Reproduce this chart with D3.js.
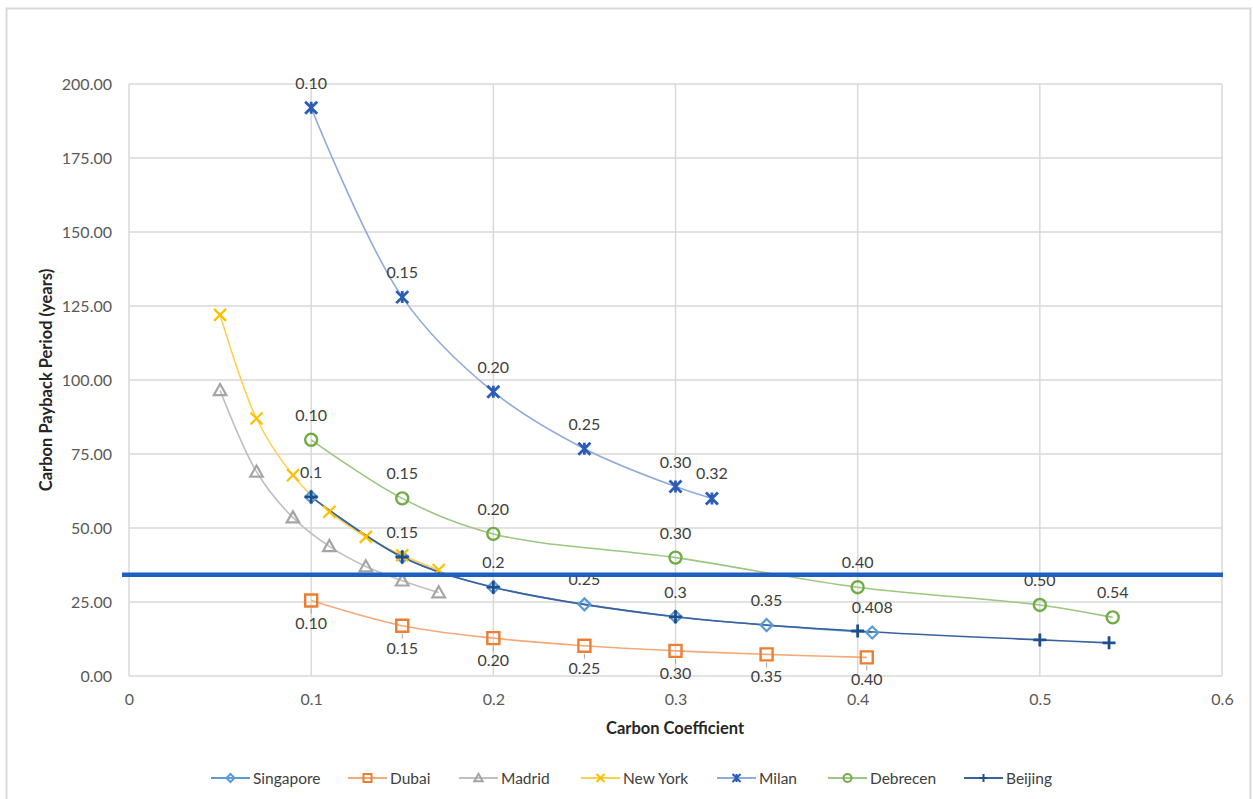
<!DOCTYPE html>
<html><head><meta charset="utf-8">
<script src="https://cdn.jsdelivr.net/npm/d3@7"></script>
<style>body{margin:0;background:#fff;font-family:Lato,sans-serif;}</style>
</head><body>
<svg id="c" width="1253" height="799"></svg>
<script>
// ---- data ----
const seriesNames = ["Singapore","Dubai","Madrid","New York","Milan","Debrecen","Beijing"];
const singaporeX = [0.10,0.15,0.20,0.25,0.30,0.35,0.408];
const singaporeY = [60.5,40.2,30.0,24.2,20.0,17.2,14.7];
const singaporeLabels = ["0.1","0.15","0.2","0.25","0.3","0.35","0.408"];
const dubaiX = [0.10,0.15,0.20,0.25,0.30,0.35,0.405];
const dubaiY = [25.5,17.0,12.8,10.2,8.5,7.3,6.3];
const dubaiLabels = ["0.10","0.15","0.20","0.25","0.30","0.35","0.40"];
const madridX = [0.05,0.07,0.09,0.11,0.13,0.15,0.17];
const madridY = [96.5,69.0,53.5,43.8,37.0,32.2,28.2];
const newYorkX = [0.05,0.07,0.09,0.11,0.13,0.15,0.17];
const newYorkY = [122.0,87.0,67.8,55.5,47.0,40.8,35.8];
const milanX = [0.10,0.15,0.20,0.25,0.30,0.32];
const milanY = [192.0,128.0,96.0,76.8,64.0,60.0];
const milanLabels = ["0.10","0.15","0.20","0.25","0.30","0.32"];
const debrecenX = [0.10,0.15,0.20,0.30,0.40,0.50,0.54];
const debrecenY = [79.8,60.0,48.0,40.0,30.0,24.0,19.8];
const debrecenLabels = ["0.10","0.15","0.20","0.30","0.40","0.50","0.54"];
const beijingX = [0.10,0.15,0.20,0.30,0.40,0.50,0.538];
const beijingY = [60.5,40.2,30.0,20.0,15.2,12.2,11.2];
const thresholdY = [34.2];
const xTicks = [0,0.1,0.2,0.3,0.4,0.5,0.6];
const xTickLabels = ["0","0.1","0.2","0.3","0.4","0.5","0.6"];
const yTicks = [0,25,50,75,100,125,150,175,200];
const yTickLabels = ["0.00","25.00","50.00","75.00","100.00","125.00","150.00","175.00","200.00"];

// ---- styling ----
const FONT = "Lato, 'Noto Sans', sans-serif";
const styles = {
  "Singapore":{color:"#5B9BD5", line:"#5B9BD5", shape:"diamond"},
  "Dubai":{color:"#ED7D31", line:"#F4A97A", shape:"square"},
  "Madrid":{color:"#A5A5A5", line:"#C0C0C0", shape:"triangle"},
  "New York":{color:"#FFC000", line:"#FFD050", shape:"x"},
  "Milan":{color:"#2A5CB8", line:"#8FAADC", shape:"star"},
  "Debrecen":{color:"#70AD47", line:"#9CC77F", shape:"circle"},
  "Beijing":{color:"#1F4E8C", line:"#3A62A0", shape:"plus"}
};
const series = [
  {name:"Singapore", xs:singaporeX, ys:singaporeY, labels:singaporeLabels, pos:"above"},
  {name:"Dubai", xs:dubaiX, ys:dubaiY, labels:dubaiLabels, pos:"below"},
  {name:"Madrid", xs:madridX, ys:madridY},
  {name:"New York", xs:newYorkX, ys:newYorkY},
  {name:"Milan", xs:milanX, ys:milanY, labels:milanLabels, pos:"above"},
  {name:"Debrecen", xs:debrecenX, ys:debrecenY, labels:debrecenLabels, pos:"above"},
  {name:"Beijing", xs:beijingX, ys:beijingY}
];

const svg = d3.select("#c");
svg.append("rect").attr("x",6.5).attr("y",8.5).attr("width",1244).attr("height",820)
  .attr("fill","none").attr("stroke","#D9D9D9").attr("stroke-width",2);

const L=129, R=1222, T=84, B=676;
const x = d3.scaleLinear().domain([0,0.6]).range([L,R]);
const y = d3.scaleLinear().domain([0,200]).range([B,T]);

// grid
const g = svg.append("g");
g.selectAll(".gy").data(yTicks).join("line")
  .attr("x1",L).attr("x2",R).attr("y1",d=>y(d)).attr("y2",d=>y(d))
  .attr("stroke","#D9D9D9").attr("stroke-width",1.5);
g.selectAll(".gx").data(xTicks).join("line")
  .attr("y1",T).attr("y2",B).attr("x1",d=>x(d)).attr("x2",d=>x(d))
  .attr("stroke","#D9D9D9").attr("stroke-width",1.5);

// axes
const yAxis = d3.axisLeft(y).tickValues(yTicks).tickFormat((d,i)=>yTickLabels[i]).tickSize(0).tickPadding(17);
const ya = svg.append("g").attr("transform",`translate(${L},0)`).call(yAxis);
const xAxis = d3.axisBottom(x).tickValues(xTicks).tickFormat((d,i)=>xTickLabels[i]).tickSize(0).tickPadding(18);
const xa = svg.append("g").attr("transform",`translate(0,${B})`).call(xAxis);
[ya,xa].forEach(a=>{a.select(".domain").remove();
  a.selectAll("text").attr("font-family",FONT).attr("font-size",16).attr("fill","#595959");});

svg.append("text").attr("x",675).attr("y",734).attr("text-anchor","middle")
  .attr("font-family",FONT).attr("font-weight","bold").attr("font-size",16.5).attr("fill","#262626")
  .text("Carbon Coefficient");
svg.append("text").attr("transform","translate(52,380) rotate(-90)").attr("text-anchor","middle")
  .attr("font-family",FONT).attr("font-weight","bold").attr("font-size",16.5).attr("fill","#262626")
  .text("Carbon Payback Period (years)");

// markers
function marker(sel, shape, color, s, w){
  const p = sel.append("path").attr("fill", "none").attr("stroke",color).attr("stroke-width",w||2.2);
  let d;
  if(shape==="diamond") d=`M0,${-s}L${s},0L0,${s}L${-s},0Z`;
  else if(shape==="square") d=`M${-s},${-s}H${s}V${s}H${-s}Z`;
  else if(shape==="triangle") d=`M0,${-s*1.05}L${s*1.05},${s*0.8}L${-s*1.05},${s*0.8}Z`;
  else if(shape==="x") d=`M${-s},${-s}L${s},${s}M${-s},${s}L${s},${-s}`;
  else if(shape==="star") d=`M${-s},${-s}L${s},${s}M${-s},${s}L${s},${-s}M0,${-s}V${s}`;
  else if(shape==="circle") d=`M${s},0A${s},${s} 0 1,1 ${-s},0A${s},${s} 0 1,1 ${s},0Z`;
  else if(shape==="plus") d=`M${-s},0H${s}M0,${-s}V${s}`;
  p.attr("d",d);
  if(!w && (shape==="star"||shape==="plus")) p.attr("stroke-width",2.8);
  if(!w && (shape==="square"||shape==="circle")) p.attr("stroke-width",2.4);
}

const line = d3.line().x(d=>x(d[0])).y(d=>y(d[1])).curve(d3.curveCatmullRom.alpha(0.5));
const lab = svg.append("g");
series.forEach(s=>{
  const st = styles[s.name];
  const pts = s.xs.map((v,i)=>[v,s.ys[i]]);
  svg.append("path").datum(pts).attr("d",line).attr("fill","none").attr("stroke",st.line).attr("stroke-width",1.6);
});
series.forEach(s=>{
  const st = styles[s.name];
  s.xs.forEach((v,i)=>{
    const m = svg.append("g").attr("transform",`translate(${x(v)},${y(s.ys[i])})`);
    marker(m, st.shape, st.color, st.shape==="plus"?6.5:6);
    if(s.labels){
      if(s.pos==="below"){
        lab.append("line").attr("x1",x(v)).attr("x2",x(v)).attr("y1",y(s.ys[i])+8).attr("y2",y(s.ys[i])+13).attr("stroke","#A6A6A6").attr("stroke-width",1);
      }
      lab.append("text").attr("x",x(v)).attr("y",y(s.ys[i]) + (s.pos==="below"?28:-19))
        .attr("text-anchor","middle").attr("font-family",FONT).attr("font-size",16).attr("fill","#404040")
        .text(s.labels[i]);
    }
  });
});
svg.node().appendChild(lab.node());

// threshold line
svg.selectAll(".thr").data(thresholdY).join("line")
  .attr("x1",L-7).attr("x2",R+1).attr("y1",d=>y(d)).attr("y2",d=>y(d))
  .attr("stroke","#1F5FBF").attr("stroke-width",4.5);

// legend
const legX = [211,348,459,581,717,828,964];
const leg = svg.append("g").attr("transform","translate(0,778)");
seriesNames.forEach((n,i)=>{
  const st = styles[n];
  const gg = leg.append("g").attr("transform",`translate(${legX[i]},0)`);
  gg.append("line").attr("x1",0).attr("x2",39).attr("stroke",st.line).attr("stroke-width",2);
  const m = gg.append("g").attr("transform","translate(19.5,0)");
  marker(m, st.shape, st.color, 4, 2);
  gg.append("text").attr("x",42).attr("y",5.5).attr("font-family",FONT).attr("font-size",15.5).attr("fill","#404040").text(n);
});
</script>
</body></html>
